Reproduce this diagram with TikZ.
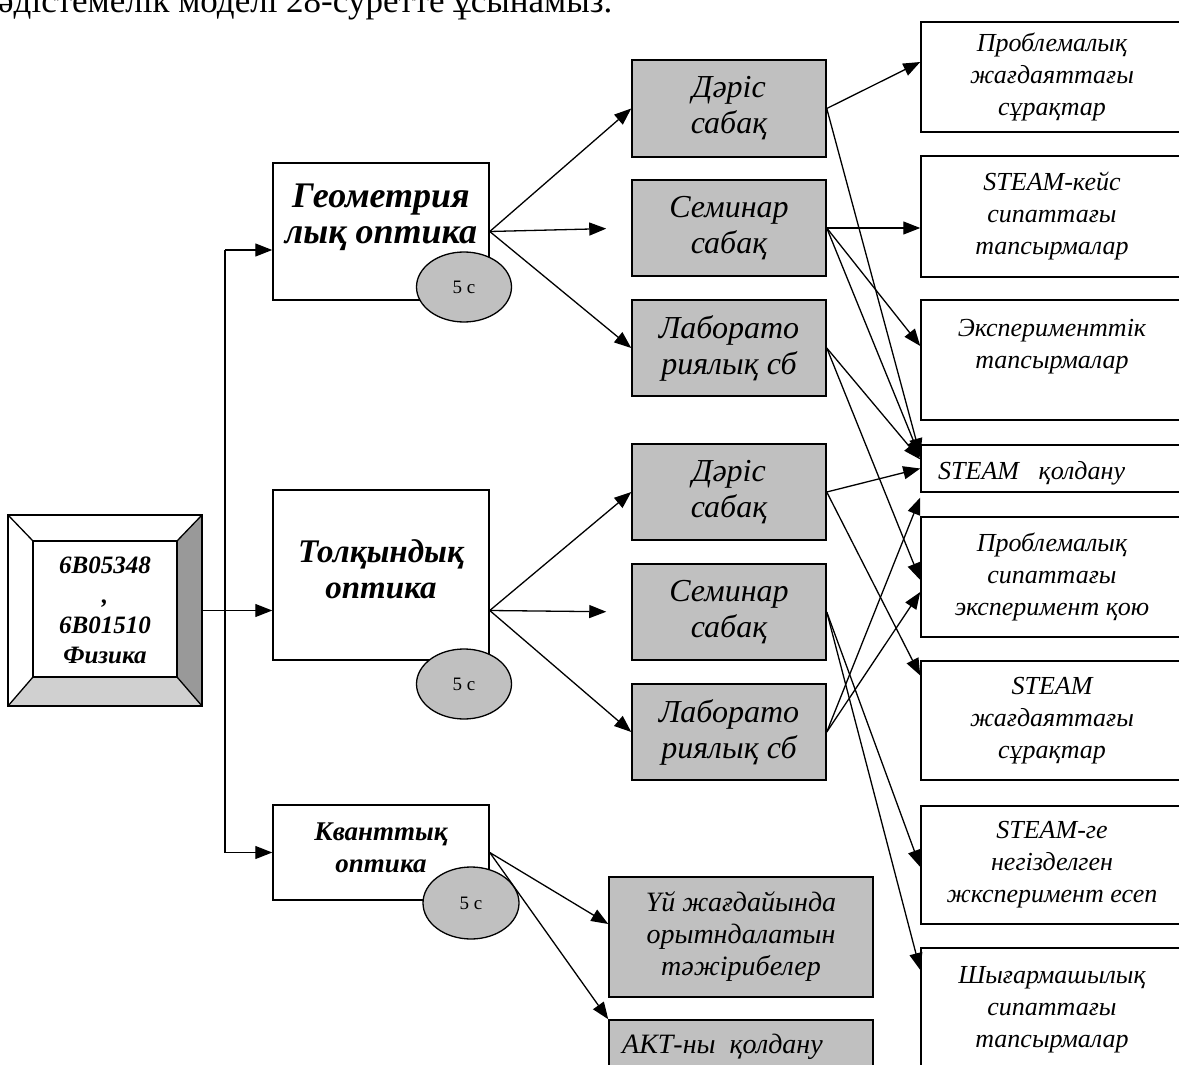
\documentclass[tikz,border=0pt]{standalone}
\usepackage{fontspec}
\setmainfont{Liberation Serif}
\usetikzlibrary{arrows.meta,calc,shapes.geometric}
\definecolor{boxgray}{HTML}{C0C0C0}
\definecolor{bevdark}{HTML}{999999}
\definecolor{bevlight}{HTML}{D0D0D0}
\begin{document}
\begin{tikzpicture}[x=1pt,y=-1pt,
  ln/.style={line width=1.3pt},
  arr/.style={line width=1.3pt,-{Triangle[length=17pt,width=13pt]}},
  wbox/.style={draw,line width=1.5pt,fill=white,inner sep=0pt,align=center},
  gbox/.style={draw,line width=1.5pt,fill=boxgray,inner sep=0pt,align=center,minimum width=194pt,minimum height=96pt,font=\itshape\fontsize{32}{36}\selectfont},
  rbox/.style={wbox,minimum width=262pt,font=\itshape\fontsize{26}{32}\selectfont},
  bbox/.style={draw,line width=1.5pt,fill=boxgray,inner sep=0pt,align=center,minimum width=264pt,font=\itshape\fontsize{28}{32}\selectfont},
  lbl/.style={inner sep=0pt,align=center,font=\bfseries\itshape\fontsize{33}{36}\selectfont},
  oval/.style={ellipse,draw,line width=1.3pt,fill=boxgray,inner sep=0pt,minimum width=95pt,minimum height=70pt,font=\fontsize{19}{20}\selectfont}
]
\useasboundingbox (0,0) rectangle (1179,1065);

% caption line (cut off at the top, as in the source page)
\node[anchor=base west,inner sep=0pt,font=\fontsize{35}{40}\selectfont] (cap) at (-2,13) {әдістемелік моделі 28-суретте ұсынамыз.};

% bevelled source box
\coordinate (o1) at (8,515); \coordinate (o2) at (202,515);
\coordinate (o3) at (202,706); \coordinate (o4) at (8,706);
\coordinate (i1) at (33,541); \coordinate (i2) at (177,541);
\coordinate (i3) at (177,677); \coordinate (i4) at (33,677);
\fill[white] (o1) rectangle (o3);
\fill[bevdark] (o2) -- (o3) -- (i3) -- (i2) -- cycle;
\fill[bevlight] (o4) -- (o3) -- (i3) -- (i4) -- cycle;
\draw[ln] (o1) rectangle (o3);
\draw[ln] (i1) rectangle (i3);
\draw[ln] (o1) -- (i1) (o2) -- (i2) (o3) -- (i3) (o4) -- (i4);
\node[inner sep=0pt,minimum width=194pt,minimum height=191pt,align=center,font=\bfseries\itshape\fontsize{25}{30}\selectfont] (src) at (105,610.5) {6B05348\\,\\6B01510\\Физика};

% second column
\node[wbox,minimum width=216pt,minimum height=137pt] (geo) at (381,231.5) {};
\node[lbl,font=\bfseries\itshape\fontsize{36}{36}\selectfont] (geot) at (381,217) {Геометрия\\лық оптика};
\node[wbox,minimum width=216pt,minimum height=170pt] (tolq) at (381,575) {};
\node[lbl] (tolqt) at (381,569) {Толқындық\\оптика};
\node[wbox,minimum width=216pt,minimum height=95pt] (kv) at (381,852.5) {};
\node[lbl,font=\bfseries\itshape\fontsize{27}{32}\selectfont] (kvt) at (381,848) {Кванттық\\оптика};

\node[oval] (e1) at (464,287) {5 с};
\node[oval] (e2) at (464,684) {5 с};
\node[oval,minimum width=96pt,minimum height=72pt] (e3) at (471,903) {5 с};

% third column
\node[gbox,minimum height=97pt] (d1) at (729,108.5) {Дәріс\\сабақ};
\node[gbox] (s1) at (729,228) {Семинар\\сабақ};
\node[gbox] (l1) at (729,348) {Лаборато\\риялық сб};
\node[gbox] (d2) at (729,492) {Дәріс\\сабақ};
\node[gbox] (s2) at (729,612) {Семинар\\сабақ};
\node[gbox] (l2) at (729,732) {Лаборато\\риялық сб};

\node[bbox,minimum height=120pt] (uy) at (741,937) {Үй жағдайында\\орытндалатын\\тәжірибелер};
\node[bbox,minimum height=65pt] (akt) at (741,1052.5) {};
\node[anchor=base west,inner sep=0pt,font=\itshape\fontsize{28}{32}\selectfont] (aktt) at (622,1053) {АКТ-ны\ \ қолдану};

% right column
\node[rbox,minimum height=110pt] (r1) at (1052,77) {Проблемалық\\жағдаяттағы\\сұрақтар};
\node[rbox,minimum height=121pt] (r2) at (1052,216.5) {STEAM-кейс\\сипаттағы\\тапсырмалар};
\node[rbox,minimum height=120pt] (r3) at (1052,360) {Эксперименттік\\тапсырмалар\\\mbox{}};
\node[rbox,minimum height=47pt] (r4) at (1052,468.5) {};
\node[anchor=base west,inner sep=0pt,font=\itshape\fontsize{26}{32}\selectfont] (r4t) at (938,479) {STEAM\ \ \ қолдану};
\node[rbox,minimum height=120pt] (r5) at (1052,577) {Проблемалық\\сипаттағы\\эксперимент қою};
\node[rbox,minimum height=119pt] (r6) at (1052,720.5) {STEAM\\жағдаяттағы\\сұрақтар};
\node[rbox,minimum height=118pt] (r7) at (1052,865) {STEAM-ге\\негізделген\\жксперимент есеп};
\node[rbox,minimum height=124pt] (r8) at (1052,1010) {Шығармашылық\\сипаттағы\\тапсырмалар};

% trunk
\coordinate (jt) at (225,250);
\coordinate (jb) at (225,852.5);
\draw[ln] (jt) -- (jb);
\draw[arr] (jt) -- (jt -| geo.west);
\draw[arr] (src.east) -- (src.east -| tolq.west);
\draw[arr] (jb) -- (jb -| kv.west);

% fans from second column
\draw[arr] (geo.east) -- (d1.west);
\draw[arr,shorten >=25pt] (geo.east) -- (s1.west);
\draw[arr] (geo.east) -- (l1.west);
\coordinate (tq) at (tolq.east |- src.east);
\draw[arr] (tq) -- (d2.west);
\draw[arr,shorten >=25pt] (tq) -- (s2.west);
\draw[arr] (tq) -- (l2.west);
\draw[arr] (kv.east) -- ($(uy.west)+(0,-13)$);
\draw[arr] (kv.east) -- (akt.north west);

% third column to right column
\draw[arr] (d1.east) -- ($(r1.west)+(0,-15)$);
\draw[arr] (d1.east) -- ($(r4.west)+(0,-13)$);
\draw[arr] (s1.east) -- (s1.east -| r2.west);
\draw[arr] (s1.east) -- ($(r3.west)+(0,-14)$);
\draw[arr] (s1.east) -- ($(r4.west)+(0,-11)$);
\draw[arr] (l1.east) -- ($(r4.west)+(0,-9)$);
\draw[arr] (l1.east) -- ($(r5.west)+(0,3)$);
\draw[arr] (d2.east) -- (r4.west);
\draw[arr] (d2.east) -- ($(r6.west)+(0,-45)$);
\draw[arr] (s2.east) -- ($(r7.west)+(0,2)$);
\draw[arr] (s2.east) -- ($(r8.west)+(0,-40)$);
\draw[arr] (l2.east) -- ($(r4.west)+(0,29)$);
\draw[arr] (l2.east) -- ($(r5.west)+(0,15)$);
\end{tikzpicture}
\end{document}
